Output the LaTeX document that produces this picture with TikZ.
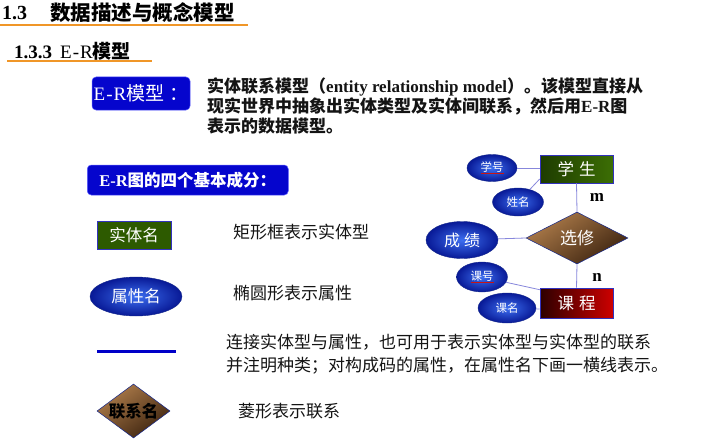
\documentclass[tikz,border=0pt]{standalone}
\usepackage{fontspec}
\setmainfont{Liberation Serif}
\newfontfamily\cjk{Noto Sans CJK SC}
\usetikzlibrary{shapes.geometric}
\definecolor{orangeline}{RGB}{240,150,40}
\definecolor{boxblue}{RGB}{5,5,205}
\definecolor{boxedge}{RGB}{90,90,255}
\definecolor{linkc}{RGB}{135,135,220}
\definecolor{ellin}{RGB}{60,110,240}
\definecolor{ellout}{RGB}{8,25,150}
\definecolor{elledge}{RGB}{20,40,140}
\definecolor{greenA}{RGB}{30,60,0}
\definecolor{greenB}{RGB}{60,110,5}
\definecolor{greenS}{RGB}{45,90,0}
\definecolor{redA}{RGB}{45,0,0}
\definecolor{redB}{RGB}{205,0,0}
\definecolor{brownA}{RGB}{175,125,75}
\definecolor{brownB}{RGB}{60,35,15}
\definecolor{entedge}{RGB}{50,50,190}
\definecolor{ulred}{RGB}{200,20,20}
\definecolor{lineblue}{RGB}{0,0,200}
\definecolor{bodytext}{RGB}{20,20,20}
\newcommand\keyattr[1]{\setbox0\hbox{#1}\rlap{\color{ulred}\rule[-2.5pt]{\wd0}{0.8pt}}\box0}
\newcommand\ertxt{{\rmfamily\mdseries E\hspace{1pt}-\hspace{1pt}R}}
\begin{document}
\begin{tikzpicture}[x=1pt,y=-1pt,
  plain/.style={anchor=west, inner sep=0pt},
  body/.style={plain, text=bodytext, font=\cjk\fontsize{17}{17}\selectfont},
  bodyb/.style={plain, text=bodytext, font=\cjk\bfseries\fontsize{17}{17}\selectfont},
  bluebox/.style={draw=boxedge, line width=0.5pt, fill=boxblue, rounded corners=4pt, text=white, inner sep=0pt},
  entity/.style={draw=entedge, line width=0.6pt, inner sep=0pt, text=white},
  attr/.style={ellipse, draw=elledge, line width=0.4pt, inner sep=0pt, inner color=ellin, outer color=ellout, text=white},
  rel/.style={diamond, draw=elledge, line width=0.5pt, inner sep=0pt, top color=brownA, bottom color=brownB, shading angle=35},
  link/.style={draw=linkc, line width=0.8pt}
]
\useasboundingbox[fill=white] (0,0) rectangle (707,444);

% title
\node[plain, font=\bfseries\fontsize{20}{20}\selectfont] (t13) at (2,13) {1.3};
\node[plain, font=\cjk\bfseries\fontsize{20.5}{20.5}\selectfont] (ttl) at (50,13) {数据描述与概念模型};
\coordinate (ul1a) at (0,25); \coordinate (ul1b) at (248,25);
\draw[orangeline, line width=1.8pt] (ul1a) -- (ul1b);
\node[plain, font=\fontsize{19}{19}\selectfont] (sub) at (14,51) {{\bfseries 1.3.3}\hspace{8pt}\ertxt{\cjk\bfseries 模型}};
\coordinate (ul2a) at (7,61); \coordinate (ul2b) at (152,61);
\draw[orangeline, line width=1.5pt] (ul2a) -- (ul2b);

% E-R model definition
\node[bluebox, minimum width=98pt, minimum height=33pt, font=\fontsize{19}{19}\selectfont] (erbox) at (141,93.5) {\ertxt{\cjk 模型\hspace{5pt}：}};
\node[bodyb] (p1) at (207,87) {实体联系模型（{\rmfamily entity relationship model}）。该模型直接从};
\node[bodyb] (p2) at (207,106.5) {现实世界中抽象出实体类型及实体间联系，然后用{\rmfamily E-R}图};
\node[bodyb] (p3) at (207,126) {表示的数据模型。};

% four components
\node[bluebox, anchor=west, minimum width=201pt, minimum height=30pt, font=\cjk\bfseries\fontsize{16.5}{16.5}\selectfont] (fourbox) at (87,180) {{\rmfamily E-R}图的四个基本成分：};

\node[entity, fill=greenS, minimum width=74pt, minimum height=28pt, font=\cjk\fontsize{16.5}{16.5}\selectfont] (ent) at (134,235) {实体名};
\node[body] (d1) at (233,232) {矩形框表示实体型};

\node[attr, minimum width=92pt, minimum height=39pt, font=\cjk\fontsize{16.5}{16.5}\selectfont] (att) at (136,296.5) {属性名};
\node[body] (d2) at (233,293) {椭圆形表示属性};

\coordinate (la) at (97,351); \coordinate (lb) at (176,351);
\draw[lineblue, line width=3pt] (la) -- (lb);
\node[body] (d3a) at (226,342) {连接实体型与属性，也可用于表示实体型与实体型的联系};
\node[body] (d3b) at (226,365.5) {并注明种类；对构成码的属性，在属性名下画一横线表示。};

\node[rel, minimum width=73pt, minimum height=54pt, shape aspect=1.35, font=\cjk\bfseries\fontsize{16.5}{16.5}\selectfont, text=black] (relx) at (133.5,411) {联系名};
\node[body] (d4) at (238,411) {菱形表示联系};

% E-R example
\node[entity, left color=greenA, right color=greenB, minimum width=73pt, minimum height=28pt, font=\cjk\fontsize{16.5}{16.5}\selectfont] (xs) at (576.5,169) {学\hspace{5pt}生};
\node[entity, left color=redA, right color=redB, minimum width=73pt, minimum height=30pt, font=\cjk\fontsize{16.5}{16.5}\selectfont] (kc) at (576.5,303) {课\hspace{5pt}程};
\node[rel, minimum width=102pt, minimum height=52pt, shape aspect=2, font=\cjk\fontsize{17}{17}\selectfont, text=white] (xx) at (577,238) {选修};
\node[attr, minimum width=50pt, minimum height=27pt, font=\cjk\fontsize{11.5}{11.5}\selectfont] (xh) at (492,168) {\keyattr{学号}};
\node[attr, minimum width=51pt, minimum height=28pt, font=\cjk\fontsize{11.5}{11.5}\selectfont] (xm) at (518,202) {姓名};
\node[attr, minimum width=72pt, minimum height=37pt, font=\cjk\fontsize{16}{16}\selectfont] (cj) at (462,240) {成\hspace{4pt}绩};
\node[attr, minimum width=51pt, minimum height=30pt, font=\cjk\fontsize{11.5}{11.5}\selectfont] (kh) at (482,277) {\keyattr{课号}};
\node[attr, minimum width=58pt, minimum height=30pt, font=\cjk\fontsize{11.5}{11.5}\selectfont] (km) at (507,308) {课名};
\node[font=\bfseries\fontsize{17}{17}\selectfont, inner sep=0pt] (mm) at (597,197) {m};
\node[font=\bfseries\fontsize{17}{17}\selectfont, inner sep=0pt] (nn) at (597,277) {n};

\path[link] (xh.east) -- (xh.east -| xs.west);
\path[link] (xm) -- ([yshift=-10pt]xs.west);
\path[link] (xs.south) -- (xx.north);
\path[link] (xx.south) -- (kc.north);
\path[link] (cj) -- (xx.west);
\path[link] (kh) -- ([yshift=-2pt]kc.north west);
\path[link] (km) -- ([yshift=-6pt]kc.west);
\end{tikzpicture}
\end{document}
